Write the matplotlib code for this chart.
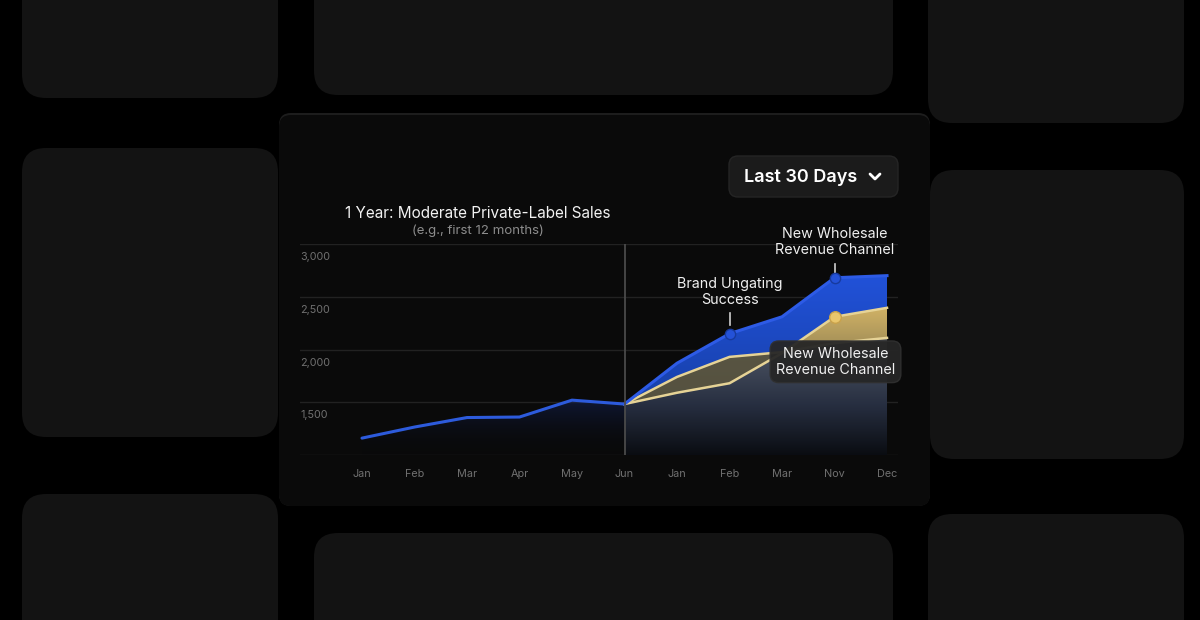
import numpy as np
import matplotlib
matplotlib.use("Agg")
import matplotlib.pyplot as plt
from matplotlib.patches import FancyBboxPatch
from matplotlib.colors import LinearSegmentedColormap

plt.rcParams['font.family'] = ['Inter', 'DejaVu Sans']

# data
months = ['Jan', 'Feb', 'Mar', 'Apr', 'May', 'Jun', 'Jan', 'Feb', 'Mar', 'Nov', 'Dec']
y_ticks = [1500, 2000, 2500, 3000]
y_grid = [1000, 1500, 2000, 2500, 3000]
first_year = [1160, 1265, 1355, 1360, 1520, 1483]          # Jan..Jun
blue_growth = [1483, 1870, 2150, 2310, 2680, 2700]         # Jun..Dec
gold_upper = [1483, 1740, 1930, 1975, 2060, 2110]          # Jun..Dec
gold_lower = [1483, 1590, 1680, 1965, 2310, 2395]          # Jun..Dec
title = '1 Year: Moderate Private-Label Sales'
subtitle = '(e.g., first 12 months)'

W, H = 1200, 620
fig = plt.figure(figsize=(12, 6.2), dpi=100, facecolor='black')

# background with tiles (pixel coords)
bg = fig.add_axes([0, 0, 1, 1])
bg.set_xlim(0, W)
bg.set_ylim(H, 0)
bg.axis('off')
tiles = [(22, -40, 278, 98), (314, -40, 893, 95), (928, -40, 1184, 123),
         (22, 148, 278, 437), (930, 170, 1184, 459), (22, 494, 278, 680),
         (314, 533, 893, 680), (928, 514, 1184, 680)]
for x0, y0, x1, y1 in tiles:
    bg.add_patch(FancyBboxPatch((x0, y0), x1 - x0, y1 - y0,
                                boxstyle='round,pad=0,rounding_size=24',
                                fc='#131313', ec='none'))
# main card (lighter rim on top only)
bg.add_patch(FancyBboxPatch((279, 113), 651, 393, boxstyle='round,pad=0,rounding_size=12',
                            fc='#1d1d1d', ec='none'))
bg.add_patch(FancyBboxPatch((279, 115), 651, 391, boxstyle='round,pad=0,rounding_size=12',
                            fc='#0a0a0a', ec='none'))
# dropdown button
bg.add_patch(FancyBboxPatch((729, 156), 169, 41, boxstyle='round,pad=0,rounding_size=9',
                            fc='#1b1b1b', ec='#252525', lw=1))
bg.text(801, 177, 'Last 30 Days', color='white', fontsize=13, fontweight='semibold',
        ha='center', va='center')
bg.plot([870, 875, 880], [174, 179, 174], color='white', lw=2, solid_capstyle='round',
        solid_joinstyle='round')

# titles
bg.text(478, 213, title, color='#f2f2f2', fontsize=11, ha='center', va='center')
bg.text(478, 231, subtitle, color='#8c8c8c', fontsize=9.5, ha='center', va='center')

# chart axes: x index 0 at px 362, step 52.5; y 1000 at px 455, 3000 at px 244
step = 52.5
x_left = (300 - 362) / step
x_right = (898 - 362) / step
ax = fig.add_axes([300 / W, (H - 455) / H, 598 / W, 211 / H])
ax.set_facecolor('none')
for s in ax.spines.values():
    s.set_visible(False)

x1 = np.arange(len(first_year))
x2 = np.arange(5, 5 + len(blue_growth))
blue = np.array(blue_growth)
ga = np.array(gold_upper)
gb = np.array(gold_lower)
gmax = np.maximum(ga, gb)

for v in y_grid:
    ax.axhline(v, color='#222222', lw=1, zorder=1)
ax.axvline(5, color='#4a4a4a', lw=1.3, zorder=9)


def grad_fill(xs, top, bottom, colors, y0, y1, z):
    poly = ax.fill_between(xs, top, bottom, color='none', lw=0)
    cmap = LinearSegmentedColormap.from_list('g', colors)
    img = ax.imshow(np.linspace(1, 0, 256).reshape(-1, 1), extent=[xs[0], xs[-1], y0, y1],
                    aspect='auto', cmap=cmap, origin='upper', zorder=z, interpolation='bicubic')
    img.set_clip_path(poly.get_paths()[0], transform=ax.transData)


# first half fill + line
grad_fill(x1, first_year, 1000, [(0.02, 0.03, 0.06, 0.0), (0.09, 0.16, 0.40, 0.55)],
          1000, 1560, 2)
ax.plot(x1, first_year, color='#2d5bdc', lw=2.2, zorder=6, solid_capstyle='round')

# second half: under-fill
grad_fill(x2, gmax, 1000, [(0.04, 0.05, 0.07, 1.0), (0.15, 0.18, 0.25, 1.0),
                            (0.28, 0.31, 0.37, 1.0), (0.45, 0.43, 0.36, 1.0)],
          1000, 2400, 2)
# blue band
grad_fill(x2, blue, gmax, [(0.09, 0.25, 0.66, 1.0), (0.13, 0.32, 0.85, 1.0)],
          1483, 2700, 3)
# lens (upper gold above lower gold)
ax.fill_between(x2, ga, gb, where=ga >= gb, interpolate=True, color='#5a553f', alpha=0.9,
                lw=0, zorder=4)
# gold band after crossing
grad_fill(x2, gb, np.minimum(ga, gb), [(0.60, 0.53, 0.33, 1.0), (0.82, 0.70, 0.40, 1.0)],
          1950, 2400, 4)
ax.plot(x2, ga, color='#e6d396', lw=1.8, zorder=5)
ax.plot(x2, gb, color='#e6d396', lw=1.8, zorder=5)
ax.plot(x2, blue, color='#2d5be6', lw=2.2, zorder=6)

ax.set_xlim(x_left, x_right)
ax.set_ylim(1000, 3000)

# annotations
fb = x2[2], blue[2]
nb = x2[4], blue[4]
ng = x2[4], gb[4]
ax.scatter(*fb, s=55, color='#2452d8', edgecolor='#173a9e', lw=1, zorder=10)
ax.scatter(*nb, s=55, color='#2452d8', edgecolor='#173a9e', lw=1, zorder=10)
ax.scatter(*ng, s=70, color='#e9c66c', edgecolor='#c9a24c', lw=1, zorder=10)

ax.annotate('Brand Ungating\nSuccess', xy=fb, xytext=(0, 42), textcoords='offset pixels',
            ha='center', va='center', color='#f0f0f0', fontsize=10.3, linespacing=1.2,
            zorder=11)
ax.annotate('New Wholesale\nRevenue Channel', xy=nb, xytext=(0, 36), textcoords='offset pixels',
            ha='center', va='center', color='#f0f0f0', fontsize=10.3, linespacing=1.2,
            zorder=11)
ax.annotate('New Wholesale\nRevenue Channel', xy=ng, xytext=(1, -45), textcoords='offset pixels',
            ha='center', va='center', color='#f0f0f0', fontsize=10.3, linespacing=1.2,
            zorder=12,
            bbox=dict(boxstyle='round,pad=0.4,rounding_size=0.6', fc='#262626', ec='#303030',
                      alpha=0.95))

# small tick marks above dots + connector line (converted to pixel coords)
to_px = ax.transData.transform
for pt, (a, b) in [(fb, (9, 21)), (nb, (5, 14))]:
    px, py = to_px(pt)
    bg.plot([px, px], [H - (py + a), H - (py + b)], color='#cfcfcf', lw=1.2, zorder=5)
px, py = to_px(nb)
_, gy = to_px(ng)
bg.plot([px, px], [H - py + 6, H - gy - 6], color='#bdbdbd', lw=1, alpha=0.7, zorder=5)
bg.plot([px, px], [H - gy + 6, H - gy + 22], color='#bdbdbd', lw=1, alpha=0.7, zorder=5)

# axis labels
ax.set_xticks(np.arange(len(months)))
ax.set_xticklabels(months, color='#707070', fontsize=7.8)
ax.tick_params(axis='x', length=0, pad=10)
ax.set_yticks([])
for v in y_ticks:
    ax.annotate(f'{v:,}', xy=(0, v), xycoords=('axes fraction', 'data'), xytext=(0, -13),
                textcoords='offset pixels', ha='left', va='center', color='#707070',
                fontsize=7.8)

fig.savefig('out.png', dpi=100, facecolor='black')
